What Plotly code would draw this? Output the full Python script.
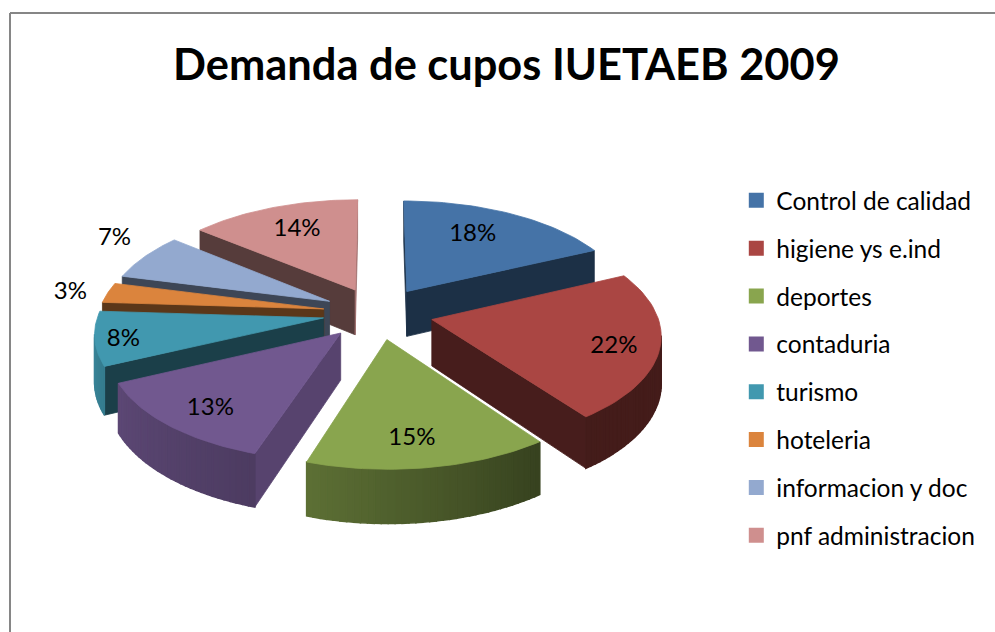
import numpy as np
import plotly.graph_objects as go

# ---- data ----
categories = ["Control de calidad", "higiene ys e.ind", "deportes", "contaduria",
              "turismo", "hoteleria", "informacion y doc", "pnf administracion"]
percent = [18, 22, 15, 13, 8, 3, 7, 14]
title_text = "Demanda de cupos IUETAEB 2009"

# ---- style ----
colors = ["#4573A7", "#AA4643", "#89A54E", "#71588F", "#4198AF", "#DB843D", "#93A9CF", "#CF8F8E"]
FONT = "Lato"
# projection of the tilted, exploded pie (layout parameters)
CX, CY, RX, RY, PERSP, DEPTH, EXPLODE = 378, 313, 225, 106.6, 0.123, 46, 0.245
label_r = [0.66, 0.82, 0.75, 0.72, 0.92, 1.22, 1.22, 0.65]
label_nudge = [(-5, -4), (-4, 5), (-6, 7), (-10, 11), (10, 3), (9, 4), (8, -8), (-3, -4)]


def project(theta, r, h, mid):
    t, m = np.radians(theta), np.radians(mid)
    X = EXPLODE * np.sin(m) + r * np.sin(t)
    Y = EXPLODE * np.cos(m) + r * np.cos(t)
    s = 1 / (1 + PERSP * Y)
    return CX + RX * X * s, CY - RY * Y * s + h * DEPTH * s


def shade(col, f):
    rgb = [int(col[i:i + 2], 16) for i in (1, 3, 5)]
    return "rgb(%d,%d,%d)" % tuple(int(c * f) for c in rgb)


def arc_factor(theta):
    return float(np.interp(theta, [60, 144, 198, 245, 290, 360], [.40, .40, .68, .82, .95, .95]))


def area(pts):
    x, y = np.array(pts).T
    return 0.5 * np.sum(x * np.roll(y, -1) - np.roll(x, -1) * y)


def poly(pts, color, name, width=0.8):
    x, y = zip(*pts)
    return go.Scatter(x=list(x) + [x[0]], y=list(y) + [y[0]], mode="lines", fill="toself",
                      fillcolor=color, line=dict(color=color, width=width), showlegend=False,
                      hoverinfo="text", text=name)


fracs = np.array(percent) / sum(percent) * 360
ends = np.cumsum(fracs)
starts = ends - fracs
mids = (starts + ends) / 2
order = np.argsort(-np.cos(np.radians(mids)))

fig = go.Figure()
for i in order:
    a, b, m, col, name = starts[i], ends[i], mids[i], colors[i], categories[i]
    # radial walls
    for th, sign in ((a, -1), (b, 1)):
        pts = [project(th, 0, 0, m), project(th, 1, 0, m), project(th, 1, 1, m), project(th, 0, 1, m)]
        if area(pts) * sign > 0:
            nx = sign * np.cos(np.radians(th))
            fig.add_trace(poly(pts, shade(col, .77 if nx > .6 else .42), name))
    # outer rim, front-facing strips only
    edges = np.linspace(a, b, max(int((b - a) / 1.5), 2) + 1)
    for t0, t1 in zip(edges[:-1], edges[1:]):
        pts = [project(t0, 1, 0, m), project(t1, 1, 0, m), project(t1, 1, 1, m), project(t0, 1, 1, m)]
        if area(pts) < 0:
            fig.add_trace(poly(pts, shade(col, arc_factor((t0 + t1) / 2)), name, width=1.5))
    # top face
    top = [project(0, 0, 0, m)] + [project(t, 1, 0, m) for t in np.linspace(a, b, 40)]
    fig.add_trace(poly(top, col, name))

# data labels
lx, ly = [], []
for i in range(len(percent)):
    x, y = project(mids[i], label_r[i], 0, mids[i])
    lx.append(x + label_nudge[i][0])
    ly.append(y + label_nudge[i][1])
fig.add_trace(go.Scatter(x=lx, y=ly, mode="text", text=[f"{v}%" for v in percent],
                         textfont=dict(family=FONT, size=24, color="black"),
                         showlegend=False, hoverinfo="skip"))

# legend entries
for i, name in enumerate(categories):
    fig.add_trace(go.Scatter(x=[None], y=[None], mode="markers", name=name, legendgroup=name,
                             marker=dict(symbol="square", size=15, color=colors[i])))

fig.update_layout(
    width=995, height=632, margin=dict(l=0, r=0, t=0, b=0),
    paper_bgcolor="white", plot_bgcolor="white",
    title=dict(text=f"<b>{title_text}</b>", x=0.509, xanchor="center", y=0.897, yanchor="middle",
               font=dict(family=FONT, size=43.4, color="black")),
    xaxis=dict(range=[0, 995], visible=False, fixedrange=True),
    yaxis=dict(range=[632, 0], visible=False, fixedrange=True),
    legend=dict(x=0.740, y=0.7185, xanchor="left", yanchor="top", tracegroupgap=13,
                itemsizing="trace", font=dict(family=FONT, size=24.5, color="black"),
                bgcolor="rgba(0,0,0,0)"),
    shapes=[
        dict(type="line", xref="x", yref="y", x0=10, y0=13, x1=995, y1=13, line=dict(color="#868686", width=2)),
        dict(type="line", xref="x", yref="y", x0=10, y0=13, x1=10, y1=632, line=dict(color="#868686", width=2)),
    ],
)
fig.write_html("out.html", config=dict(displayModeBar=False),
               post_script="document.body.style.margin='0';document.documentElement.style.overflow='hidden';")
